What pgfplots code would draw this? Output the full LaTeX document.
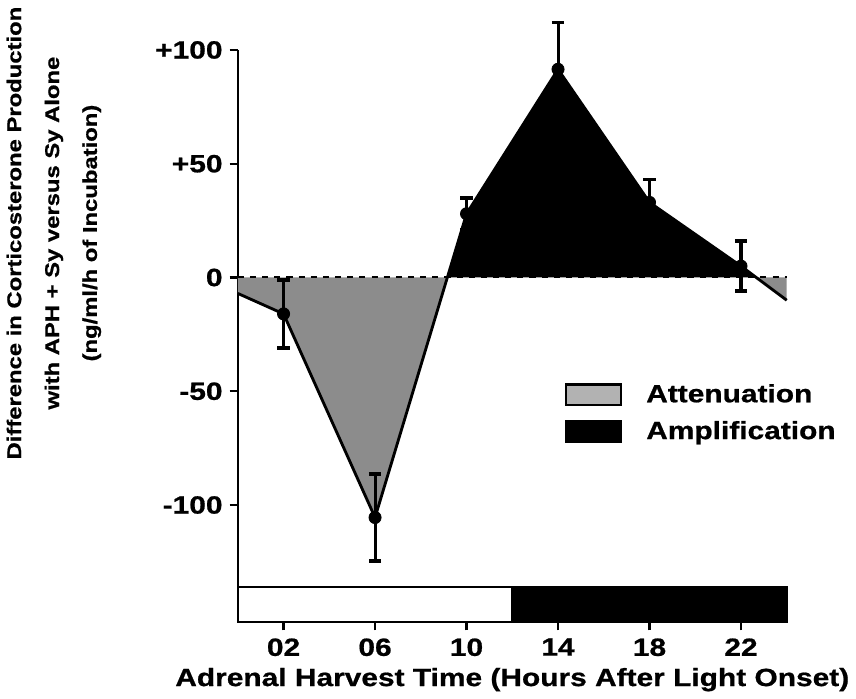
\documentclass[border=0pt]{standalone}
\usepackage{fontspec}
\newfontfamily\figfont{Liberation Sans}[FakeStretch=1.2, FakeBold=0.8]
\usepackage{pgfplots}
\pgfplotsset{compat=1.18}
\pgfplotsset{boxlegend/.style={legend image code/.code={\draw[##1] (0pt,-5pt) rectangle (27pt,5pt);}}}
\newcommand{\bigf}{\figfont\bfseries\fontsize{12.3}{14}\selectfont}
\newcommand{\labf}{\figfont\bfseries\fontsize{9.8}{18.7}\selectfont}
\begin{document}
\begin{tikzpicture}
\begin{axis}[
  scale only axis, width=271pt, height=282.5pt,
  xmin=0, xmax=24, ymin=-151.5, ymax=100,
  axis x line*=bottom, axis y line*=left,
  axis line style={line width=1.2pt, black},
  clip=false,
  xtick={2,6,10,14,18,22}, xticklabels={02,06,10,14,18,22},
  ytick={-100,-50,0,50,100}, yticklabels={-100,-50,0,+50,+100},
  tick align=outside, major tick length=4pt,
  tick style={line width=1.2pt, black},
  ticklabel style={font=\bigf},
  xticklabel style={yshift=-0.5pt},
  xlabel={Adrenal Harvest Time (Hours After Light Onset)},
  xlabel style={font=\bigf, yshift=1pt},
  ylabel={Difference in Corticosterone Production\\with APH + Sy versus Sy Alone\\(ng/ml/h of Incubation)},
  ylabel style={font=\labf, align=center, at={(axis description cs:-0.335,0.68)}, anchor=center},
  legend style={at={(rel axis cs:0.595,0.418)}, anchor=north west, draw=none, fill=none,
    inner sep=0pt, row sep=7pt, column sep=12pt, font=\bigf,
    nodes={inner sep=0pt, anchor=west}},
  legend cell align=left,
]
\addlegendimage{boxlegend, fill=black!30, draw=black, line width=1.2pt}
\addlegendentry{Attenuation}
\addlegendimage{boxlegend, fill=black, draw=black, line width=1.2pt}
\addlegendentry{Amplification}

% attenuation areas
\addplot[fill=black!45, draw=none] coordinates {(0,0) (0,-7) (2,-16) (6,-105.5) (9.161,0)} --cycle;
\addplot[fill=black!45, draw=none] coordinates {(22.667,0) (24,-10) (24,0)} --cycle;
% zero line
\addplot[black, dashed, line width=1pt] coordinates {(0,0) (24,0)};
% amplification area
\addplot[fill=black, draw=none] coordinates {(9.161,0) (10,28) (14,91.5) (18,33) (22,5) (22.667,0)} --cycle;

% light/dark bar
\addplot[draw=black, fill=white, line width=1.2pt] coordinates {(0,-151.5) (0,-136) (12,-136) (12,-151.5)} --cycle;
\addplot[draw=black, fill=black, line width=1.2pt] coordinates {(12,-151.5) (12,-136) (24,-136) (24,-151.5)} --cycle;

% curve
\addplot[black, line width=1.4pt, mark=none] coordinates {(0,-7) (2,-16) (6,-105.5) (10,28) (14,91.5) (18,33) (22,5) (24,-10)};
% means with error bars
\addplot[black, only marks, mark=*, mark size=3pt,
  error bars/.cd, y dir=both, y explicit,
  error bar style={line width=1.5pt, black},
  error mark options={rotate=90, mark size=3pt, line width=1.8pt, black}]
  table[x=x, y=y, y error=e] {
x y e
2 -16 15
6 -105.5 19
10 28 7
14 91.5 20.5
18 33 10
22 5 11
};
\end{axis}
\end{tikzpicture}
\end{document}
